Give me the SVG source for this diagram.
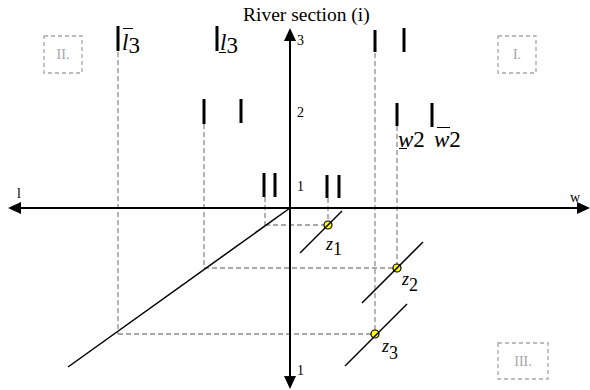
<svg xmlns="http://www.w3.org/2000/svg" width="590" height="390" viewBox="0 0 590 390">
<style>
text{font-family:"Liberation Serif","Times New Roman",serif;fill:#000}
.tick{font-size:14px}
.quad{font-size:14px;fill:#a6a6a6;text-anchor:middle}
.qbox{fill:none;stroke:#a6a6a6;stroke-width:1.3;stroke-dasharray:4,3}
.dash{stroke:#8c8c8c;stroke-width:1.3;stroke-dasharray:5,3;fill:none}
.axis{stroke:#000;stroke-width:2;fill:none}
.bar{stroke:#000;stroke-width:3}
.seg{stroke:#000;stroke-width:1.5}
.big{font-size:23px}
.zl{font-size:18px}
.title{font-size:19.5px}
.dec{stroke:#000;stroke-width:1}
.pt{fill:#ffff00;stroke:#000;stroke-width:1.2}
</style>
<rect width="590" height="390" fill="#fff"/>
<g id="connectors">
<line class="dash" x1="118" y1="52" x2="118" y2="334"/>
<line class="dash" x1="118" y1="334" x2="375" y2="334"/>
<line class="dash" x1="204" y1="124" x2="204" y2="268"/>
<line class="dash" x1="204" y1="268" x2="397" y2="268"/>
<line class="dash" x1="265" y1="197" x2="265" y2="225"/>
<line class="dash" x1="265" y1="225" x2="328" y2="225"/>
<line class="dash" x1="328" y1="198" x2="328" y2="225"/>
<line class="dash" x1="375" y1="53" x2="375" y2="334"/>
<line class="dash" x1="397" y1="126" x2="397" y2="268"/>
<line class="seg" x1="290" y1="208" x2="68" y2="367"/>
</g>
<g id="axes">
<line class="axis" x1="18" y1="208" x2="580" y2="208"/>
<line class="axis" x1="290" y1="38" x2="290" y2="379"/>
<polygon points="8,208 21,202 21,214" fill="#000"/>
<polygon points="590,208 577,202 577,214" fill="#000"/>
<polygon points="290,28 284,41 296,41" fill="#000"/>
<polygon points="290,389 284,376 296,376" fill="#000"/>
<text class="title" x="243" y="21">River section (i)</text>
<text class="tick" x="297" y="45">3</text>
<text class="tick" x="297" y="117">2</text>
<text class="tick" x="297" y="191">1</text>
<text class="tick" x="17" y="198">l</text>
<text class="tick" x="570" y="202">w</text>
<text class="tick" x="297" y="375">1</text>
</g>
<g id="quadrant-II"><rect class="qbox" x="44" y="36" width="38" height="37"/><text class="quad" x="63" y="59">II.</text></g>
<g id="quadrant-I"><rect class="qbox" x="498" y="36" width="38" height="37"/><text class="quad" x="517" y="59">I.</text></g>
<g id="quadrant-III"><rect class="qbox" x="498" y="343" width="50" height="36"/><text class="quad" x="523" y="366">III.</text></g>
<g id="level-3">
<line class="bar" x1="118" y1="26" x2="118" y2="51"/>
<line class="bar" x1="217" y1="26" x2="217" y2="51"/>
<line class="bar" x1="375" y1="30" x2="375" y2="52"/>
<line class="bar" x1="404" y1="28" x2="404" y2="52"/>
<text class="big" x="122" y="50"><tspan font-style="italic">l</tspan><tspan dy="3">3</tspan></text>
<line class="dec" x1="123" y1="28.5" x2="133" y2="28.5"/>
<text class="big" x="220" y="50"><tspan font-style="italic">l</tspan><tspan dy="3">3</tspan></text>
<line class="dec" x1="219" y1="52.5" x2="226" y2="52.5"/>
</g>
<g id="level-2">
<line class="bar" x1="397" y1="103" x2="397" y2="126"/>
<line class="bar" x1="432" y1="103" x2="432" y2="127"/>
<line class="bar" x1="204" y1="99" x2="204" y2="124"/>
<line class="bar" x1="241" y1="99" x2="241" y2="123"/>
<text class="big" x="398" y="147"><tspan font-style="italic">w</tspan><tspan>2</tspan></text>
<line class="dec" x1="399" y1="148.5" x2="407" y2="148.5"/>
<text class="big" x="434" y="147"><tspan font-style="italic">w</tspan><tspan>2</tspan></text>
<line class="dec" x1="437" y1="127.5" x2="450" y2="127.5"/>
</g>
<g id="level-1">
<line class="bar" x1="264" y1="173" x2="264" y2="197"/>
<line class="bar" x1="275" y1="173" x2="275" y2="197"/>
<line class="bar" x1="327" y1="175" x2="327" y2="198"/>
<line class="bar" x1="339" y1="175" x2="339" y2="198"/>
</g>
<g id="z1">
<circle class="pt" cx="328" cy="225" r="4"/>
<line class="seg" x1="300" y1="253" x2="342" y2="211"/>
<text class="zl" x="326" y="250"><tspan font-style="italic">z</tspan><tspan dy="5">1</tspan></text>
</g>
<g id="z2">
<circle class="pt" cx="397" cy="268" r="4"/>
<line class="seg" x1="362" y1="303" x2="423" y2="242"/>
<text class="zl" x="402" y="285"><tspan font-style="italic">z</tspan><tspan dy="6">2</tspan></text>
</g>
<g id="z3">
<circle class="pt" cx="375" cy="334" r="4"/>
<line class="seg" x1="345" y1="366" x2="407" y2="304"/>
<text class="zl" x="382" y="352"><tspan font-style="italic">z</tspan><tspan dy="7">3</tspan></text>
</g>
</svg>
